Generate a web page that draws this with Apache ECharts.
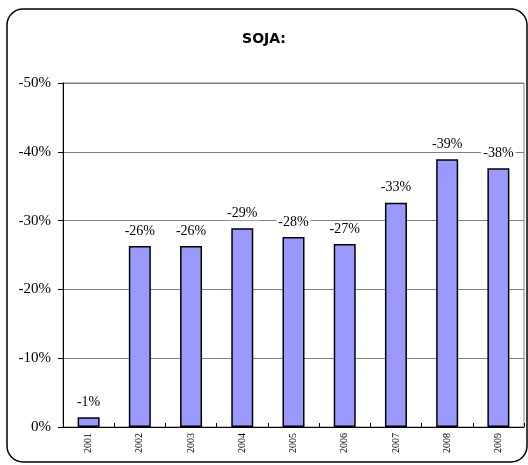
<!DOCTYPE html>
<html>
<head>
<meta charset="utf-8">
<script src="https://cdn.jsdelivr.net/npm/echarts@6/dist/echarts.min.js"></script>
<style>
  html, body { margin: 0; padding: 0; background: #fff; }
  #main { width: 528px; height: 465px; }
</style>
</head>
<body>
<div id="main"></div>
<script>
// years and the change for soy (percent, negative)
var years = ['2001', '2002', '2003', '2004', '2005', '2006', '2007', '2008', '2009'];
var soja = [-1.4, -26.3, -26.3, -28.9, -27.6, -26.6, -32.6, -38.9, -37.6];
var yMin = -50, yMax = 0, yStep = 10;

var serif = '"Liberation Serif", "Times New Roman", serif';

var options = {
    animation: false,
    title: {
        text: 'SOJA:',
        left: 'center',
        top: 27,
        textStyle: {
            fontFamily: '"DejaVu Sans", sans-serif',
            fontSize: 14,
            fontWeight: 'bold',
            color: '#000'
        }
    },
    graphic: [{
        type: 'rect',
        shape: { x: 7, y: 9, width: 520, height: 453, r: 16 },
        style: { fill: 'none', stroke: '#000', lineWidth: 1.5 },
        silent: true
    }],
    grid: {
        left: 63,
        right: 4,
        top: 83,
        bottom: 38,
        show: true,
        borderColor: '#808080',
        borderWidth: 1
    },
    xAxis: {
        type: 'category',
        data: years,
        axisLine: { lineStyle: { color: '#000', width: 1 } },
        axisTick: { show: true, inside: true, length: 4, lineStyle: { color: '#000' } },
        axisLabel: {
            rotate: 90,
            margin: 6,
            fontFamily: serif,
            fontSize: 10,
            color: '#000'
        }
    },
    yAxis: {
        type: 'value',
        inverse: true,
        min: yMin,
        max: yMax,
        interval: yStep,
        axisLine: { show: true, lineStyle: { color: '#000', width: 1 } },
        axisTick: { show: true, length: 5, lineStyle: { color: '#000' } },
        splitLine: { lineStyle: { color: '#808080', width: 1 } },
        axisLabel: {
            margin: 12,
            fontFamily: serif,
            fontSize: 15,
            color: '#000',
            formatter: function (v) { return v + '%'; }
        }
    },
    series: [{
        name: 'SOJA',
        type: 'bar',
        data: soja,
        barWidth: 22,
        itemStyle: {
            color: '#9999ff',
            borderColor: '#000',
            borderWidth: 1.5
        },
        label: {
            show: true,
            position: 'top',
            distance: 8,
            fontFamily: serif,
            fontSize: 14,
            color: '#000',
            backgroundColor: '#fff',
            padding: [0, 2],
            formatter: function (p) { return '-' + Math.round(Math.abs(p.value)) + '%'; }
        }
    }]
};

var chart = echarts.init(document.getElementById('main'));
chart.setOption(options);
</script>
</body>
</html>
